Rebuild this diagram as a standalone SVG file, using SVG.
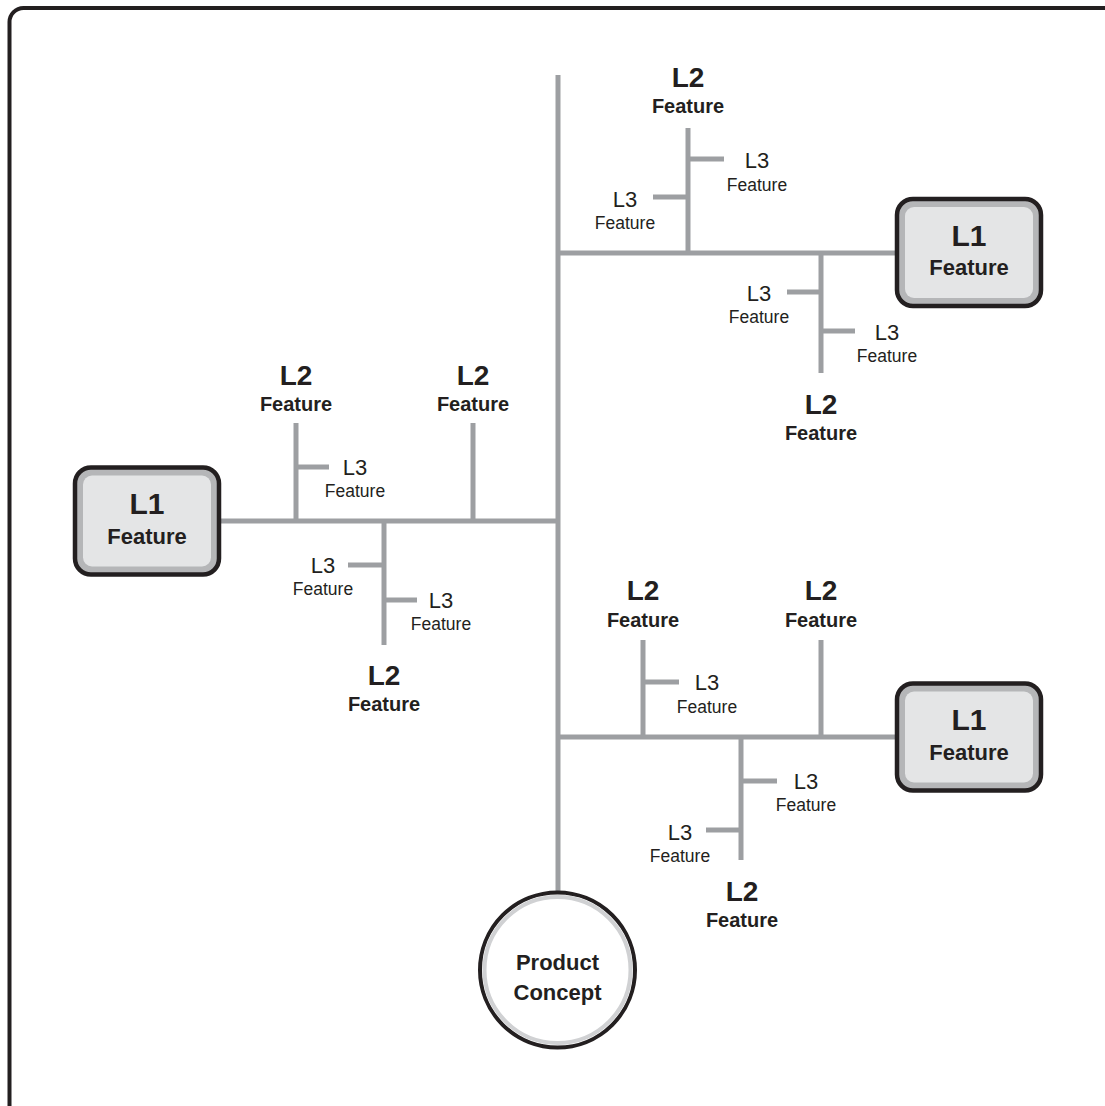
<svg xmlns="http://www.w3.org/2000/svg" width="1105" height="1106" viewBox="0 0 1105 1106">
<style>
.ln{stroke:#9d9fa2;stroke-width:5;fill:none;stroke-linecap:butt}
.t{font-family:"Liberation Sans",Arial,sans-serif;fill:#231f20;text-anchor:middle}
.l1{font-size:30px;font-weight:bold}
.l1f{font-size:22px;font-weight:bold}
.l2{font-size:28px;font-weight:bold}
.l2f{font-size:20px;font-weight:bold}
.l3{font-size:22px}
.l3f{font-size:17.5px}
.pc{font-size:22px;font-weight:bold}
.box{fill:#b5b6b8;stroke:#231f20;stroke-width:4.5}
.inner{fill:#e4e5e6}
</style>
<rect x="9.5" y="8" width="1120" height="1120" rx="14" fill="#fff" stroke="#231f20" stroke-width="4"/>

<g id="connectors">
<line class="ln" x1="558" y1="75" x2="558" y2="893"/>
<line class="ln" x1="558" y1="253" x2="897" y2="253"/>
<line class="ln" x1="688" y1="128" x2="688" y2="253"/>
<line class="ln" x1="688" y1="159" x2="724" y2="159"/>
<line class="ln" x1="653" y1="197" x2="688" y2="197"/>
<line class="ln" x1="821" y1="253" x2="821" y2="373"/>
<line class="ln" x1="787" y1="292" x2="821" y2="292"/>
<line class="ln" x1="821" y1="331" x2="855" y2="331"/>
<line class="ln" x1="219" y1="521" x2="558" y2="521"/>
<line class="ln" x1="296" y1="423" x2="296" y2="521"/>
<line class="ln" x1="296" y1="467" x2="329" y2="467"/>
<line class="ln" x1="473" y1="423" x2="473" y2="521"/>
<line class="ln" x1="384" y1="521" x2="384" y2="645"/>
<line class="ln" x1="348" y1="565" x2="384" y2="565"/>
<line class="ln" x1="384" y1="600" x2="417" y2="600"/>
<line class="ln" x1="558" y1="737" x2="897" y2="737"/>
<line class="ln" x1="643" y1="640" x2="643" y2="737"/>
<line class="ln" x1="643" y1="682" x2="679" y2="682"/>
<line class="ln" x1="821" y1="640" x2="821" y2="737"/>
<line class="ln" x1="741" y1="737" x2="741" y2="860"/>
<line class="ln" x1="741" y1="781" x2="777" y2="781"/>
<line class="ln" x1="706" y1="830" x2="741" y2="830"/>
</g>

<g id="product-concept">
<circle cx="557.5" cy="970" r="77.5" fill="#fff" stroke="#231f20" stroke-width="4"/>
<circle cx="557.5" cy="970" r="73" fill="none" stroke="#d0d1d3" stroke-width="4"/>
<text class="t pc" x="557.5" y="970">Product</text>
<text class="t pc" x="557.5" y="1000">Concept</text>
</g>

<g id="l1-top-right">
<rect class="box" x="897" y="199" width="144" height="107" rx="16"/>
<rect class="inner" x="905" y="207" width="128" height="91" rx="9"/>
<text class="t l1" x="969" y="246">L1</text>
<text class="t l1f" x="969" y="275">Feature</text>
</g>
<g id="l1-left">
<rect class="box" x="75" y="467.5" width="144" height="107" rx="16"/>
<rect class="inner" x="83" y="475.5" width="128" height="91" rx="9"/>
<text class="t l1" x="147" y="514">L1</text>
<text class="t l1f" x="147" y="544">Feature</text>
</g>
<g id="l1-bottom-right">
<rect class="box" x="897" y="683.5" width="144" height="107" rx="16"/>
<rect class="inner" x="905" y="691.5" width="128" height="91" rx="9"/>
<text class="t l1" x="969" y="730">L1</text>
<text class="t l1f" x="969" y="760">Feature</text>
</g>

<g id="l2-tr-top"><text class="t l2" x="688" y="87">L2</text><text class="t l2f" x="688" y="113">Feature</text></g>
<g id="l2-tr-bottom"><text class="t l2" x="821" y="414">L2</text><text class="t l2f" x="821" y="440">Feature</text></g>
<g id="l2-left-a"><text class="t l2" x="296" y="385">L2</text><text class="t l2f" x="296" y="411">Feature</text></g>
<g id="l2-left-b"><text class="t l2" x="473" y="385">L2</text><text class="t l2f" x="473" y="411">Feature</text></g>
<g id="l2-left-bottom"><text class="t l2" x="384" y="685">L2</text><text class="t l2f" x="384" y="711">Feature</text></g>
<g id="l2-br-a"><text class="t l2" x="643" y="600">L2</text><text class="t l2f" x="643" y="627">Feature</text></g>
<g id="l2-br-b"><text class="t l2" x="821" y="600">L2</text><text class="t l2f" x="821" y="627">Feature</text></g>
<g id="l2-br-bottom"><text class="t l2" x="742" y="901">L2</text><text class="t l2f" x="742" y="927">Feature</text></g>

<g id="l3-1"><text class="t l3" x="757" y="168">L3</text><text class="t l3f" x="757" y="191">Feature</text></g>
<g id="l3-2"><text class="t l3" x="625" y="207">L3</text><text class="t l3f" x="625" y="229">Feature</text></g>
<g id="l3-3"><text class="t l3" x="759" y="301">L3</text><text class="t l3f" x="759" y="323">Feature</text></g>
<g id="l3-4"><text class="t l3" x="887" y="340">L3</text><text class="t l3f" x="887" y="362">Feature</text></g>
<g id="l3-5"><text class="t l3" x="355" y="475">L3</text><text class="t l3f" x="355" y="497">Feature</text></g>
<g id="l3-6"><text class="t l3" x="323" y="573">L3</text><text class="t l3f" x="323" y="595">Feature</text></g>
<g id="l3-7"><text class="t l3" x="441" y="608">L3</text><text class="t l3f" x="441" y="630">Feature</text></g>
<g id="l3-8"><text class="t l3" x="707" y="690">L3</text><text class="t l3f" x="707" y="713">Feature</text></g>
<g id="l3-9"><text class="t l3" x="806" y="789">L3</text><text class="t l3f" x="806" y="811">Feature</text></g>
<g id="l3-10"><text class="t l3" x="680" y="840">L3</text><text class="t l3f" x="680" y="862">Feature</text></g>
</svg>
